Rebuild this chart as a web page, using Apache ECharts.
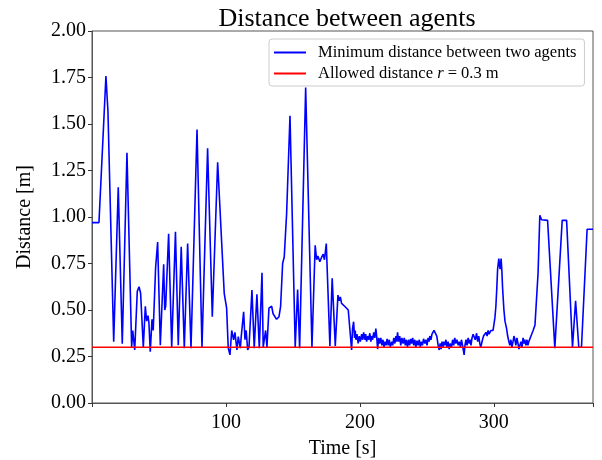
<!DOCTYPE html>
<html>
<head>
<meta charset="utf-8">
<script src="https://cdn.jsdelivr.net/npm/echarts@6/dist/echarts.min.js"></script>
<style>html,body{margin:0;padding:0;background:#fff}#c{width:602px;height:460px}</style>
</head>
<body>
<div id="c"></div>
<script>
// Time [s] of each sample of the minimum distance
const timeS = [
0,5.2,10.4,11.9,16.2,19.6,22.6,26.1,29.6,30.4,31.9,33.8,35.1,36.3,38.3,39.8,40.8,41.8,42.5,43.5,44.8,45.7,47.5,49.0,51.0,
53.5,54.3,55.0,57.2,59.5,62.3,64.4,66.6,68.9,71.4,73.9,78.4,82.1,86.3,89.8,93.8,98.7,100.5,101.7,103.0,104.3,105.7,106.7,108.2,
109.2,110.7,111.4,113.2,114.2,115.1,116.2,117.2,119.4,121.1,123.1,124.9,126.9,127.8,129.6,130.6,132.1,133.0,134.1,135.2,136.6,137.8,139.6,140.8,
142.3,143.5,145.3,147.8,151.7,153.5,155.0,159.5,164.2,166.6,167.7,168.6,170.1,171.2,172.6,173.5,174.9,177.6,179.3,181.6,183.6,184.6,185.4,186.3,187.5,188.6,189.8,191.3,
192.5,193.8,194.5,195.3,196.0,196.5,197.0,197.8,198.7,199.5,200.3,201.3,202.0,202.8,203.6,204.3,205.0,205.8,206.6,207.4,208.2,208.7,209.5,210.3,211.1,211.9,212.5,213.2,
214.0,214.8,215.6,216.4,217.2,218.0,218.7,219.5,220.3,221.1,221.9,222.7,223.7,224.5,225.3,226.1,226.9,227.5,228.1,228.9,229.7,230.5,231.3,232.3,233.1,233.9,234.7,
235.5,236.3,237.1,237.9,238.6,239.4,240.2,241.0,241.8,242.6,243.5,244.3,245.1,245.9,246.7,247.5,248.5,249.3,250.1,250.9,251.7,252.2,253.0,253.8,254.6,255.3,256.0,
256.7,257.4,258.0,258.4,259.2,259.9,260.6,261.3,262.0,262.7,263.4,264.2,265.0,265.8,266.6,267.4,268.4,269.2,270.0,270.8,271.6,272.4,273.4,274.2,275.0,275.8,276.6,
277.3,277.8,278.4,279.2,280.0,280.8,281.5,282.1,282.9,283.7,284.5,285.3,286.1,287.1,287.9,288.7,289.5,290.2,290.8,291.5,292.3,293.3,294.1,294.9,295.7,296.4,297.0,
297.8,298.6,299.4,300.0,300.8,301.5,302.2,302.8,303.7,304.2,304.7,305.4,305.9,306.5,306.9,307.5,308.3,309.5,310.3,311.2,311.9,312.7,313.5,314.3,315.0,315.7,316.4,
317.2,318.0,318.7,319.4,320.2,321.0,321.8,322.5,323.1,323.9,324.7,325.4,326.1,326.9,327.7,328.5,329.3,329.9,330.7,331.9,333.0,334.3,335.6,340.1,345.5,351.0,354.3,
358.7,361.0,363.4,365.4,369.6,374
];
// Minimum distance between two agents [m]
const minDistance = [
0.97,0.97,1.758,1.57,0.33,1.16,0.318,1.345,0.30,0.39,0.285,0.60,0.625,0.59,0.30,0.52,0.44,0.47,0.43,0.276,0.45,0.39,0.73,0.865,0.31,
0.746,0.50,0.52,0.91,0.30,0.92,0.31,0.84,0.295,0.857,0.295,1.47,0.30,1.37,0.464,1.294,0.59,0.51,0.295,0.259,0.39,0.34,0.38,0.285,
0.357,0.295,0.357,0.49,0.34,0.39,0.285,0.30,0.607,0.295,0.584,0.295,0.70,0.30,0.39,0.30,0.51,0.50,0.52,0.48,0.47,0.45,0.464,0.52,
0.75,0.785,1.02,1.544,0.30,0.61,0.295,1.696,0.30,0.848,0.77,0.79,0.76,0.78,0.80,0.77,0.857,0.307,0.67,0.307,0.58,0.55,0.57,0.536,0.54,0.52,0.53,0.50,
0.50,0.285,0.40,0.437,0.35,0.39,0.34,0.37,0.32,0.36,0.33,0.37,0.34,0.38,0.34,0.37,0.33,0.36,0.34,0.375,0.33,0.36,0.34,0.38,0.35,0.40,0.36,0.29,
0.35,0.32,0.35,0.31,0.34,0.30,0.33,0.31,0.345,0.31,0.34,0.30,0.33,0.31,0.35,0.32,0.36,0.33,0.38,0.33,0.36,0.31,0.35,0.32,0.35,0.31,0.34,
0.30,0.34,0.31,0.345,0.32,0.35,0.31,0.34,0.30,0.335,0.31,0.34,0.30,0.33,0.31,0.345,0.32,0.34,0.31,0.35,0.33,0.36,0.34,0.37,0.36,0.39,0.40,
0.38,0.36,0.33,0.31,0.285,0.32,0.29,0.33,0.30,0.33,0.31,0.34,0.30,0.33,0.29,0.32,0.30,0.34,0.31,0.35,0.32,0.34,0.31,0.33,0.30,0.34,0.31,
0.28,0.259,0.31,0.34,0.31,0.35,0.32,0.34,0.31,0.35,0.37,0.38,0.34,0.375,0.33,0.36,0.32,0.30,0.29,0.34,0.36,0.35,0.38,0.36,0.39,0.37,0.38,
0.39,0.40,0.39,0.42,0.46,0.52,0.62,0.72,0.777,0.74,0.72,0.777,0.72,0.62,0.571,0.50,0.44,0.40,0.36,0.33,0.31,0.34,0.30,0.33,0.36,0.34,0.31,
0.35,0.32,0.29,0.30,0.33,0.30,0.35,0.32,0.34,0.31,0.34,0.31,0.33,0.34,0.36,0.37,0.39,0.40,0.42,0.43,0.70,1.009,0.985,0.982,0.295,0.982,0.982,
0.30,0.55,0.30,0.30,0.934,0.934
];
const allowedDistance = 0.3;
const xRange = [0, 374];
const yTicks = [0, 0.25, 0.5, 0.75, 1.0, 1.25, 1.5, 1.75, 2.0];
const xTickLabels = [100, 200, 300];
const seriesNames = ['Minimum distance between two agents', 'Allowed distance r = 0.3 m'];

const serif = '"Liberation Serif", "DejaVu Serif", serif';
const blueData = timeS.map((t, i) => [t, minDistance[i]]);
const redData = [[xRange[0], allowedDistance], [xRange[1], allowedDistance]];

const chart = echarts.init(document.getElementById('c'), null, {renderer: 'canvas'});
chart.setOption({
  animation: false,
  backgroundColor: '#fff',
  title: {
    text: 'Distance between agents',
    left: 342, top: 1, textAlign: 'center',
    textStyle: {fontFamily: serif, fontSize: 26, fontWeight: 'normal', color: '#000'}
  },
  legend: {
    orient: 'vertical',
    left: 269, top: 39,
    padding: [5, 8, 4, 5],
    itemGap: 4,
    itemWidth: 32, itemHeight: 2,
    icon: 'rect',
    backgroundColor: 'rgba(255,255,255,0.85)',
    borderColor: '#cccccc', borderWidth: 1, borderRadius: 3,
    data: seriesNames.map((n, i) => ({name: n, icon: 'rect', itemStyle: {color: i ? '#ff0000' : '#0000ff'}})),
    formatter: function (n) {
      if (n === seriesNames[1]) return 'Allowed distance {i|r} = 0.3 m';
      return n;
    },
    textStyle: {
      fontFamily: serif, fontSize: 16.5, color: '#000', lineHeight: 17, padding: [0, 0, 0, 7],
      rich: {i: {fontFamily: serif, fontSize: 16.5, fontStyle: 'italic', color: '#000'}}
    }
  },
  grid: {left: 92, right: 9, top: 31, bottom: 57, show: true, borderColor: '#555', borderWidth: 1,
         backgroundColor: 'transparent', containLabel: false, outerBoundsMode: 'none'},
  xAxis: {
    type: 'value', min: xRange[0], max: xRange[1], interval: 100,
    name: 'Time [s]', nameLocation: 'middle', nameGap: 36,
    nameTextStyle: {fontFamily: serif, fontSize: 20, color: '#000'},
    axisLine: {show: true, lineStyle: {color: '#555', width: 1}},
    axisTick: {show: true, length: 4, lineStyle: {color: '#333'}},
    splitLine: {show: false},
    axisLabel: {
      fontFamily: serif, fontSize: 20, color: '#000', margin: 10,
      formatter: v => xTickLabels.includes(v) ? String(v) : ''
    }
  },
  yAxis: {
    type: 'value', min: yTicks[0], max: yTicks[yTicks.length - 1], interval: 0.25,
    name: 'Distance [m]', nameLocation: 'middle', nameGap: 57, nameRotate: 90,
    nameTextStyle: {fontFamily: serif, fontSize: 20, color: '#000'},
    axisLine: {show: true, lineStyle: {color: '#555', width: 1}},
    axisTick: {show: true, length: 4, lineStyle: {color: '#333'}},
    splitLine: {show: false},
    axisLabel: {fontFamily: serif, fontSize: 20, color: '#000', margin: 6, formatter: v => v.toFixed(2)}
  },
  series: [
    {name: seriesNames[0], type: 'line', data: blueData, showSymbol: false, symbol: 'none',
     lineStyle: {color: '#0000ff', width: 1.6}, itemStyle: {color: '#0000ff'}, z: 2},
    {name: seriesNames[1], type: 'line', data: redData, showSymbol: false, symbol: 'none',
     lineStyle: {color: '#ff0000', width: 1.5}, itemStyle: {color: '#ff0000'}, z: 3}
  ]
});
</script>
</body>
</html>
